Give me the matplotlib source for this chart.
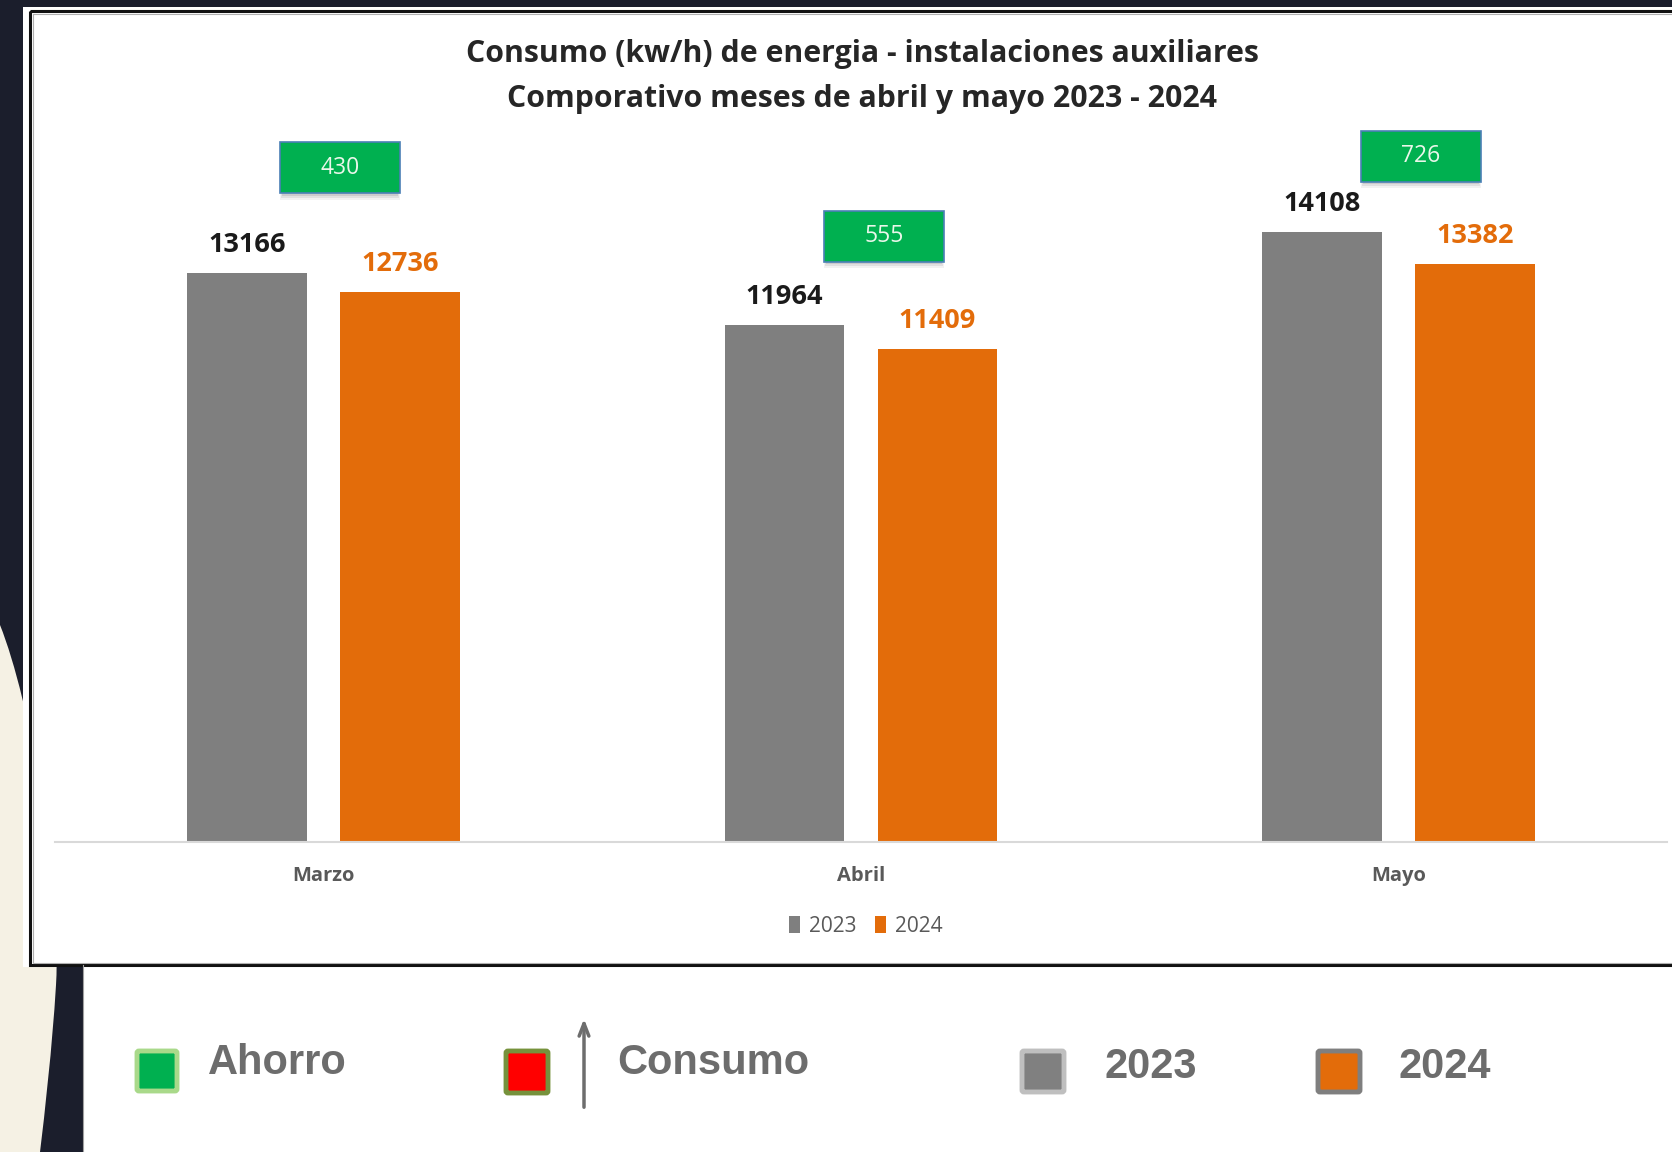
import matplotlib
matplotlib.use("Agg")
import matplotlib.pyplot as plt
from matplotlib.patches import Rectangle, FancyBboxPatch, PathPatch
from matplotlib.path import Path
import numpy as np

# ---------------- data ----------------
months = ["Marzo", "Abril", "Mayo"]
consumo_2023 = [13166, 11964, 14108]
consumo_2024 = [12736, 11409, 13382]
ahorro = [430, 555, 726]
series_names = ["2023", "2024"]
title_lines = ["Consumo (kw/h) de energia - instalaciones auxiliares",
               "Comporativo meses de abril y mayo 2023 - 2024"]

# ---------------- layout / style ----------------
W, H = 1672, 1152
C_GRAY = "#7f7f7f"
C_ORANGE = "#e36c0a"
C_GREEN = "#00b050"
C_NAVY = "#1b1e2c"
C_CREAM = "#f5f1e4"
TEXT_GRAY = "#6d6d6d"
FONT_CHART = ["Open Sans", "DejaVu Sans"]

# green box placement (x offset from category, centre value, in data units)
box_dx = [0.03, 0.043, 0.042]
box_yc = [15595, 14021, 15872]

fig = plt.figure(figsize=(W / 100, H / 100), dpi=100)
fig.patch.set_facecolor(C_NAVY)

# background decoration axes in pixel coordinates
bg = fig.add_axes([0, 0, 1, 1])
bg.set_xlim(0, W)
bg.set_ylim(H, 0)
bg.axis("off")
bg.set_zorder(0)

# cream curved shape on the left
verts = [(0, 625), (30, 700), (62, 880), (56, 985),
         (52, 1050), (45, 1110), (40, 1152), (0, 1152), (0, 625)]
codes = [Path.MOVETO, Path.CURVE4, Path.CURVE4, Path.CURVE4,
         Path.CURVE4, Path.CURVE4, Path.CURVE4, Path.LINETO, Path.CLOSEPOLY]
bg.add_patch(PathPatch(Path(verts, codes), facecolor=C_CREAM, edgecolor="none"))

# white lower area
bg.add_patch(Rectangle((83, 965), W - 83, H - 965, facecolor="white", edgecolor="none"))
bg.plot([83, 83], [965, H], color="#a0a0a0", lw=0.8)

# chart box
bg.add_patch(Rectangle((23, 7), W - 23, 960, facecolor="white", edgecolor="none"))
bg.add_patch(Rectangle((30, 11), W + 10, 954, facecolor="none", edgecolor="#111111", lw=2.2))
bg.add_patch(Rectangle((32.5, 13.5), W + 10, 949, facecolor="none", edgecolor="#b0b0b0", lw=0.8))

# title
for i, line in enumerate(title_lines):
    bg.text(862, 54 + i * 45, line, ha="center", va="center", fontsize=21.8,
            fontweight="bold", family=FONT_CHART, color="#262626")

# ---------------- bar chart ----------------
ax_left, ax_right, ax_bottom, ax_top = 55, 1667, 842, 120
ax = fig.add_axes([ax_left / W, (H - ax_bottom) / H,
                   (ax_right - ax_left) / W, (ax_bottom - ax_top) / H])
ax.set_zorder(2)
ax.patch.set_alpha(0)
ax.set_xlim(-0.5, 2.5)
ax.set_ylim(0, 16705)

x = np.arange(len(months))
bw = 0.223
off = 0.1425
b1 = ax.bar(x - off, consumo_2023, bw, color=C_GRAY, label=series_names[0], zorder=2)
b2 = ax.bar(x + off, consumo_2024, bw, color=C_ORANGE, label=series_names[1], zorder=2)

for xi, v in zip(x, consumo_2023):
    ax.annotate(str(v), (xi - off, v), xytext=(0, 20), textcoords="offset points",
                ha="center", va="center", fontsize=19.5, fontweight="bold",
                family=FONT_CHART, color="#1a1a1a")
for xi, v in zip(x, consumo_2024):
    ax.annotate(str(v), (xi + off, v), xytext=(0, 20), textcoords="offset points",
                ha="center", va="center", fontsize=19.5, fontweight="bold",
                family=FONT_CHART, color=C_ORANGE)

# green savings boxes
box_w = 0.223
box_h = 1180
for xi, dx, yc, a in zip(x, box_dx, box_yc, ahorro):
    cx = xi + dx
    for k, al in enumerate([0.05, 0.07, 0.09]):
        ax.add_patch(Rectangle((cx - box_w / 2 + 0.002 * k, yc - box_h / 2 - 60 - 40 * (2 - k)),
                               box_w - 0.004 * k, box_h, facecolor="#000000", alpha=al,
                               edgecolor="none", zorder=3))
    ax.add_patch(Rectangle((cx - box_w / 2, yc - box_h / 2), box_w, box_h,
                           facecolor=C_GREEN, edgecolor="#4a7fb5", lw=1.2, zorder=4))
    ax.text(cx, yc, str(a), ha="center", va="center", fontsize=16.5,
            family=FONT_CHART, color="#eaf7ea", zorder=5)

for s in ["top", "left", "right"]:
    ax.spines[s].set_visible(False)
ax.spines["bottom"].set_color("#d9d9d9")
ax.spines["bottom"].set_linewidth(1.5)
ax.set_yticks([])
ax.set_xticks(x)
ax.set_xticklabels(months, fontsize=14.5, fontweight="bold",
                   family=FONT_CHART, color="#595959")
ax.tick_params(axis="x", length=0, pad=17)

leg = ax.legend(handles=[b1, b2], loc="center", ncol=2, frameon=False,
                bbox_to_anchor=(866 / W, (H - 926) / H), bbox_transform=fig.transFigure,
                handlelength=0.5, handleheight=0.9, handletextpad=0.45,
                columnspacing=0.9, prop={"family": FONT_CHART, "size": 15})
for t in leg.get_texts():
    t.set_color("#595959")

# ---------------- bottom legend ----------------
def legend_square(x0, y0, w, h, face, edge):
    bg.add_patch(FancyBboxPatch((x0, y0), w, h, boxstyle="round,pad=0,rounding_size=2",
                                facecolor=face, edgecolor=edge, lw=3.5, zorder=3))

legend_square(137, 1051, 40, 40, C_GREEN, "#a9d98a")
bg.text(208, 1063, "Ahorro", ha="left", va="center", fontsize=30, fontweight="bold",
        family=["Liberation Sans", "DejaVu Sans"], color=TEXT_GRAY)

legend_square(506, 1051, 42, 42, "#ff0000", "#76923c")
bg.annotate("", xy=(584, 1016), xytext=(584, 1110),
            arrowprops=dict(arrowstyle="->,head_width=0.35,head_length=0.9",
                            color=TEXT_GRAY, lw=2.5))
bg.text(617, 1063, "Consumo", ha="left", va="center", fontsize=30, fontweight="bold",
        family=["Liberation Sans", "DejaVu Sans"], color=TEXT_GRAY)

legend_square(1022, 1051, 42, 41, "#808080", "#bfbfbf")
bg.text(1104, 1067, series_names[0], ha="left", va="center", fontsize=30, fontweight="bold",
        family=["Liberation Sans", "DejaVu Sans"], color=TEXT_GRAY)

legend_square(1318, 1051, 42, 41, C_ORANGE, "#7f7f7f")
bg.text(1399, 1067, series_names[1], ha="left", va="center", fontsize=30, fontweight="bold",
        family=["Liberation Sans", "DejaVu Sans"], color=TEXT_GRAY)

fig.savefig("out.png", dpi=100, facecolor=fig.get_facecolor())
